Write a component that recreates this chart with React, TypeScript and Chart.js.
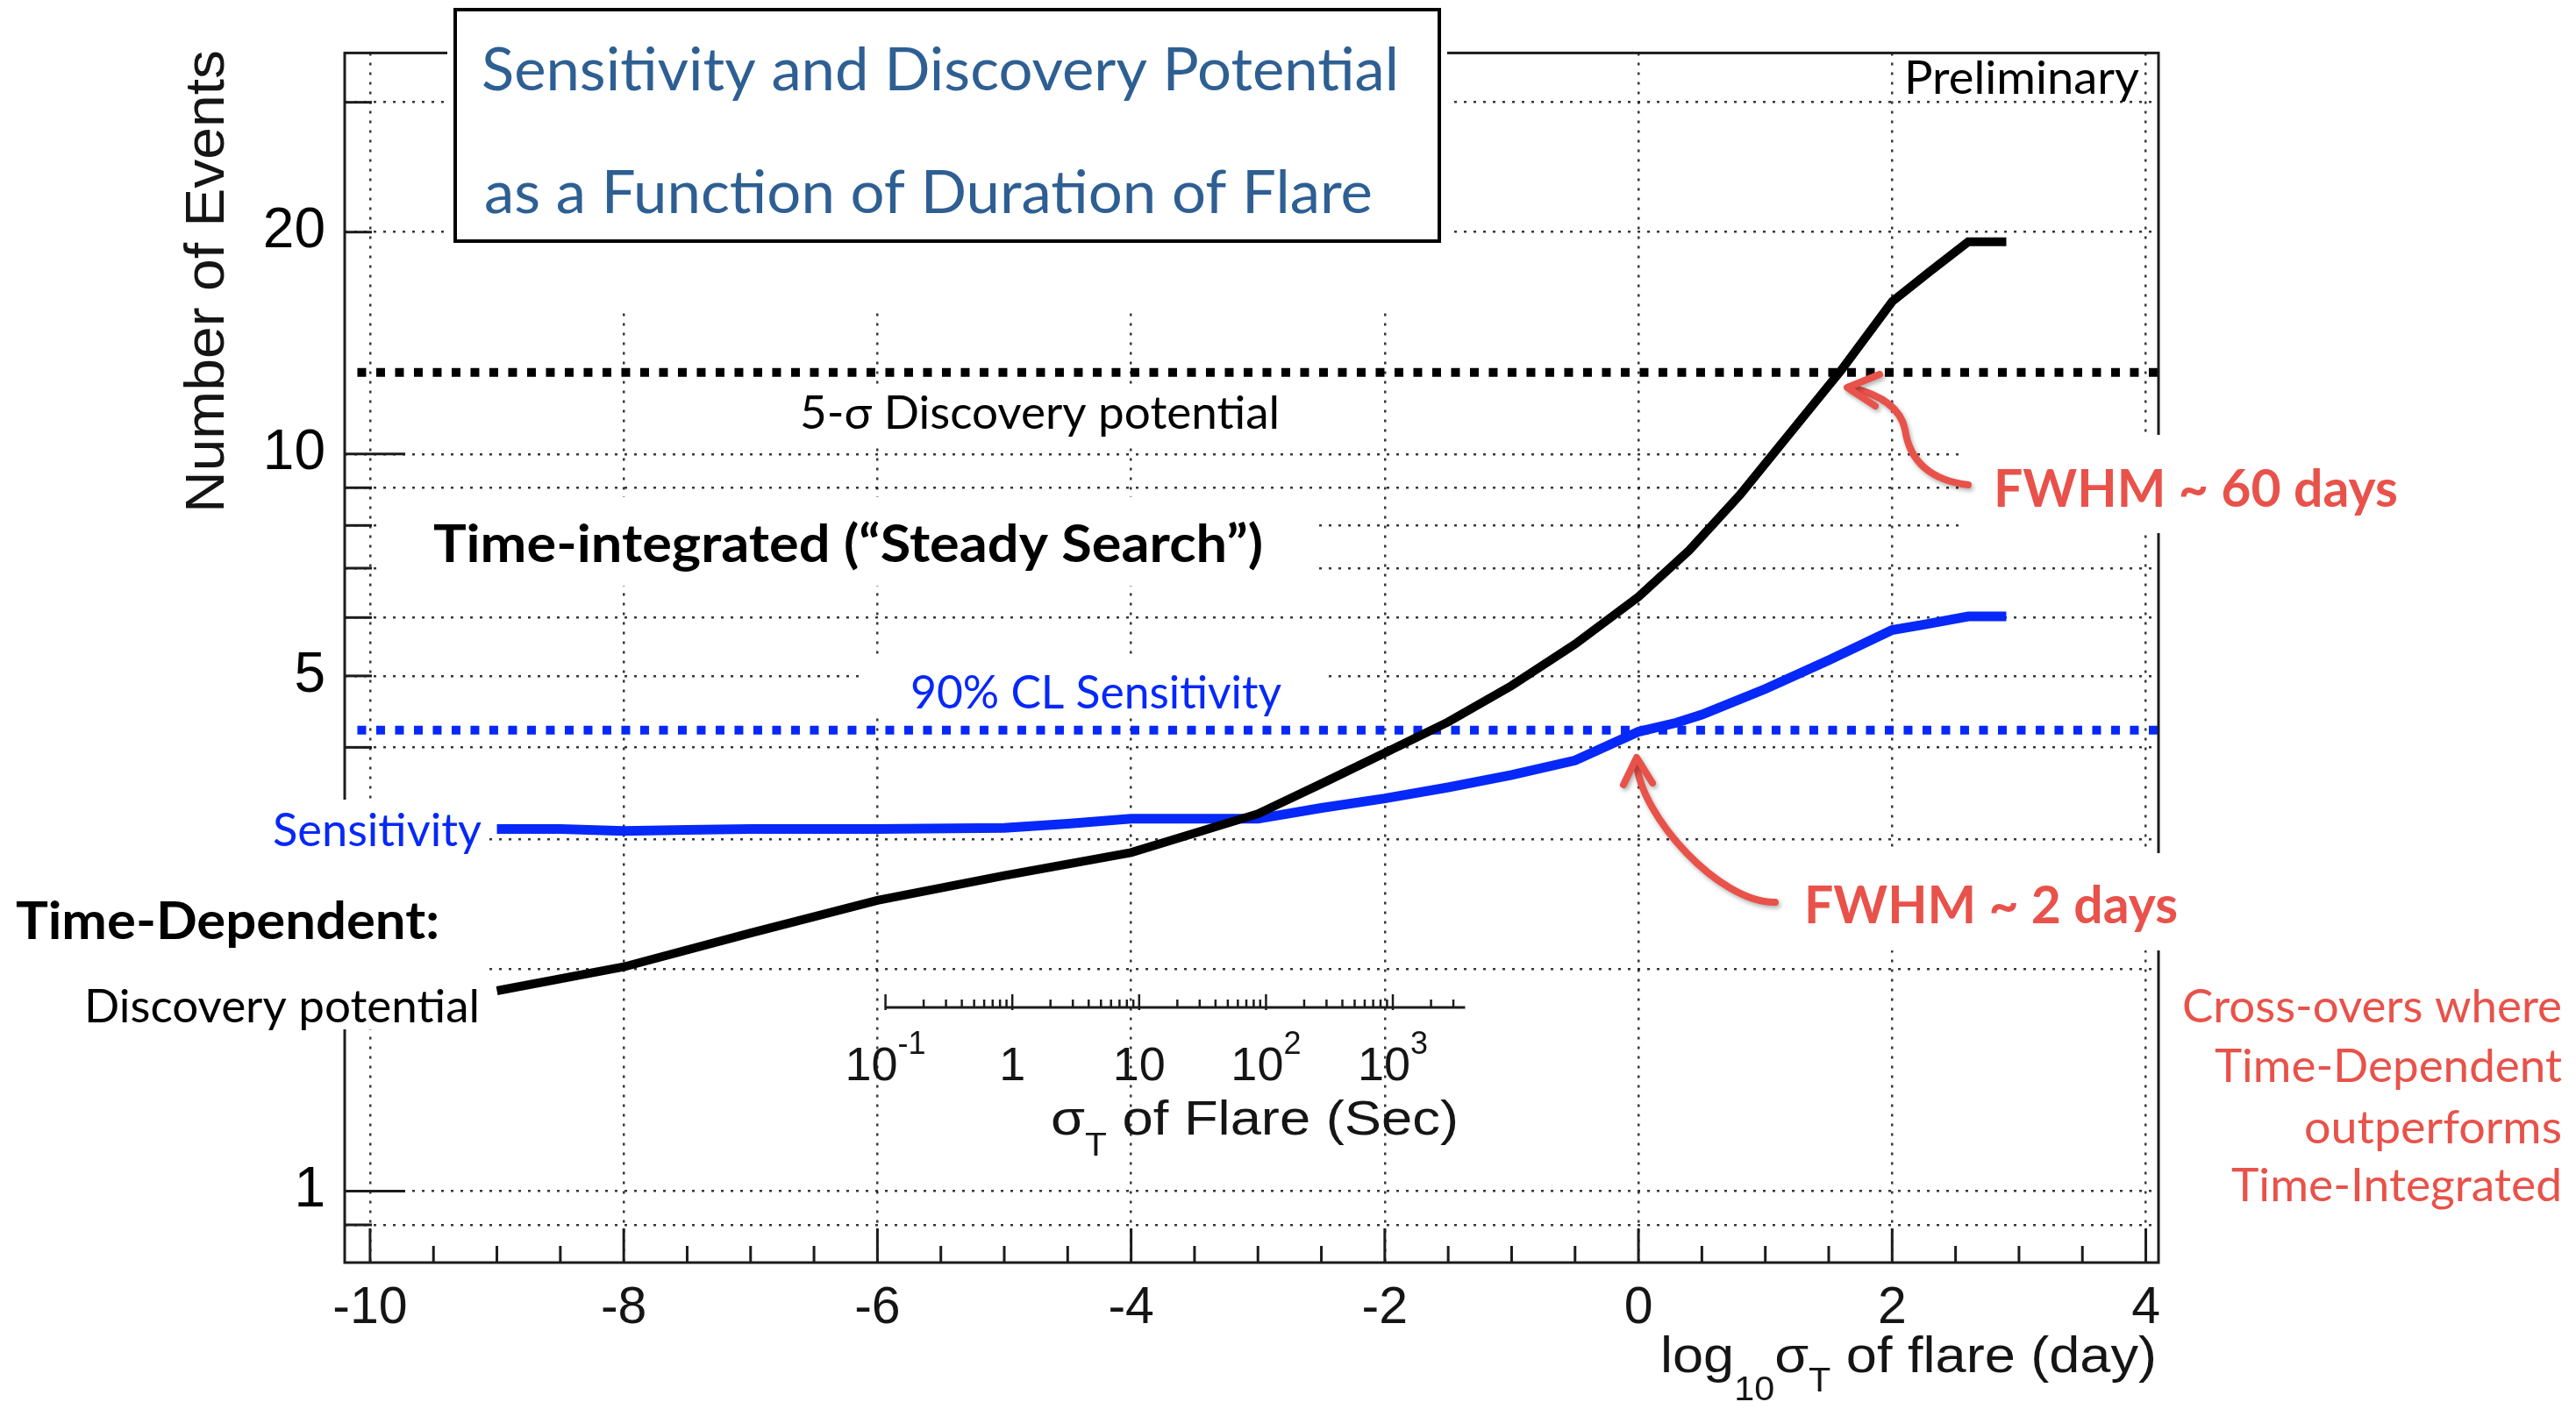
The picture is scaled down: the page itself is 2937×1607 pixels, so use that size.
import React, { useEffect, useRef } from 'react';
import { Chart, registerables } from 'chart.js';

Chart.register(...registerables);

const W = 2937;
const H = 1607;

// ---------------- data ----------------
// Time-dependent discovery potential (black curve)
const discoveryLog10Days = [-9, -8, -7, -6, -5, -4, -3, -2.5, -2, -1.5, -1, -0.5, 0, 0.4, 0.8, 1.2, 1.6, 2.0, 2.3, 2.6, 2.9];
const discoveryEvents = [1.87, 2.015, 2.24, 2.48, 2.68, 2.88, 3.25, 3.57, 3.93, 4.33, 4.85, 5.52, 6.4, 7.4, 8.8, 10.7, 13.0, 16.1, 17.7, 19.4, 19.4];
// Time-dependent sensitivity (blue curve)
const sensitivityLog10Days = [-9, -8.5, -8, -7.5, -7, -6, -5, -4.5, -4, -3.5, -3, -2.5, -2, -1.5, -1, -0.5, 0, 0.3, 0.5, 1, 1.5, 2, 2.25, 2.6, 2.9];
const sensitivityEvents = [3.1, 3.1, 3.08, 3.09, 3.1, 3.1, 3.11, 3.15, 3.2, 3.2, 3.2, 3.31, 3.41, 3.53, 3.67, 3.84, 4.2, 4.32, 4.43, 4.8, 5.25, 5.77, 5.87, 6.02, 6.02];
// Time-integrated (steady search) reference levels
const discoveryThreshold = 12.9;
const sensitivityThreshold = 4.22;
const thresholdRange = [-10.1, 4.1];

// axes
const xTicks = [-10, -8, -6, -4, -2, 0, 2, 4];
const yTicks = [0.9, 1, 2, 3, 4, 5, 6, 7, 8, 9, 10, 20, 30];
const yLabelled = [1, 5, 10, 20];
const yMajor = [1, 10];
// secondary (seconds) axis
const secExponents = [-1, 0, 1, 2, 3];
const secLabels: [string, string][] = [['10', '-1'], ['1', ''], ['10', ''], ['10', '2'], ['10', '3']];
const secAxisMaxLog = 3.57;
const LOG_SEC_PER_DAY = Math.log10(86400);

// ---------------- styles ----------------
const BLUE = '#0628f8';
const RED = '#e8524a';
const TITLE_BLUE = '#2e5f93';
const FRAME = '#1c1c1c';
const GRID = 'rgba(20,20,20,0.85)';
const LATO = '"Lato", "Open Sans", sans-serif';
const HELV = '"Liberation Sans", Arial, sans-serif';

type Piece = { t: string; size: number; dy?: number };

function rich(ctx: CanvasRenderingContext2D, pieces: Piece[], family: string, weight: string,
  x: number, y: number, targetWidth: number | null, align: 'left' | 'right' | 'center', color: string) {
  ctx.fillStyle = color;
  ctx.textBaseline = 'alphabetic';
  ctx.textAlign = 'left';
  let total = 0;
  const ws = pieces.map(p => {
    ctx.font = `${weight} ${p.size}px ${family}`;
    const w = ctx.measureText(p.t).width;
    total += w;
    return w;
  });
  const sx = targetWidth ? targetWidth / total : 1;
  const width = total * sx;
  let cx = align === 'right' ? x - width : align === 'center' ? x - width / 2 : x;
  pieces.forEach((p, i) => {
    ctx.font = `${weight} ${p.size}px ${family}`;
    ctx.save();
    ctx.translate(cx, y + (p.dy || 0));
    ctx.scale(sx, 1);
    ctx.fillText(p.t, 0, 0);
    ctx.restore();
    cx += ws[i] * sx;
  });
}

function text(ctx: CanvasRenderingContext2D, t: string, size: number, family: string, weight: string,
  x: number, y: number, w: number | null, align: 'left' | 'right' | 'center', color: string) {
  rich(ctx, [{ t, size }], family, weight, x, y, w, align, color);
}

function seg(ctx: CanvasRenderingContext2D, x0: number, y0: number, x1: number, y1: number) {
  ctx.beginPath();
  ctx.moveTo(x0, y0);
  ctx.lineTo(x1, y1);
  ctx.stroke();
}

// white backgrounds of the slide text boxes that were laid over the plot
const WHITE_BOXES: [number, number, number, number][] = [
  [510, 0, 1650, 356],
  [900, 444, 1470, 505],
  [430, 567, 1504, 668],
  [985, 752, 1508, 818],
  [0, 912, 558, 1174],
  [2240, 496, 2760, 608],
  [2035, 973, 2500, 1084],
];

const overlay = {
  id: 'overlay',
  afterDraw(chart: any) {
    const { ctx, chartArea: a } = chart;
    const xs = chart.scales.x;
    const ys = chart.scales.y;
    ctx.save();
    ctx.setLineDash([]);
    ctx.lineCap = 'butt';

    // frame
    ctx.strokeStyle = FRAME;
    ctx.lineWidth = 3;
    ctx.strokeRect(a.left, a.top, a.right - a.left, a.bottom - a.top);

    // ROOT-style inner ticks
    for (let k = -20; k <= 8; k++) {
      const v = k / 2;
      const px = xs.getPixelForValue(v);
      seg(ctx, px, a.bottom, px, a.bottom - (xTicks.includes(v) ? 39 : 19));
    }
    for (const v of yTicks) {
      const py = ys.getPixelForValue(v);
      seg(ctx, a.left, py, a.left + (yMajor.includes(v) ? 69 : 31), py);
    }

    // secondary axis: sigma_T in seconds
    const iy = 1149;
    const sx0 = xs.getPixelForValue(secExponents[0] - LOG_SEC_PER_DAY);
    const sx1 = xs.getPixelForValue(secAxisMaxLog - LOG_SEC_PER_DAY);
    ctx.lineWidth = 3;
    ctx.strokeStyle = FRAME;
    seg(ctx, sx0, iy, sx1, iy);
    ctx.lineWidth = 2.5;
    for (let e = secExponents[0]; e <= secExponents[secExponents.length - 1]; e++) {
      for (let m = 1; m <= 9; m++) {
        const lv = e + Math.log10(m);
        if (lv > secAxisMaxLog + 1e-9) continue;
        const px = xs.getPixelForValue(lv - LOG_SEC_PER_DAY);
        seg(ctx, px, iy + (m === 1 ? 3 : 0), px, iy - (m === 1 ? 15 : 9));
      }
    }
    secExponents.forEach((e, i) => {
      const px = xs.getPixelForValue(e - LOG_SEC_PER_DAY);
      const [base, sup] = secLabels[i];
      const pieces: Piece[] = [{ t: base, size: 54 }];
      if (sup) pieces.push({ t: sup, size: 36, dy: -30 });
      rich(ctx, pieces, HELV, 'normal', px, 1232, null, 'center', '#151515');
    });
    rich(ctx, [{ t: 'σ', size: 56 }, { t: 'T', size: 36, dy: 24 }, { t: ' of Flare (Sec)', size: 56 }],
      HELV, 'normal', 1198, 1294, 465, 'left', '#151515');

    // axis titles
    rich(ctx, [{ t: 'log', size: 58 }, { t: '10', size: 38, dy: 32 }, { t: 'σ', size: 58 }, { t: 'T', size: 38, dy: 22 },
      { t: ' of flare (day)', size: 58 }], HELV, 'normal', 2459, 1565, 566, 'right', '#151515');
    ctx.save();
    ctx.translate(255, 321);
    ctx.rotate(-Math.PI / 2);
    text(ctx, 'Number of Events', 63, HELV, 'normal', 0, 0, 528, 'center', '#151515');
    ctx.restore();

    // white text-box backgrounds
    ctx.fillStyle = '#ffffff';
    for (const [x0, y0, x1, y1] of WHITE_BOXES) ctx.fillRect(x0, y0, x1 - x0, y1 - y0);

    // title box
    ctx.strokeStyle = '#000';
    ctx.lineWidth = 4;
    ctx.strokeRect(519, 11, 1122, 264);
    text(ctx, 'Sensitivity and Discovery Potential', 67, LATO, 'normal', 549, 103, 1046, 'left', TITLE_BLUE);
    text(ctx, 'as a Function of Duration of Flare', 67, LATO, 'normal', 552, 243, 1013, 'left', TITLE_BLUE);

    // annotations
    text(ctx, 'Preliminary', 52, LATO, 'normal', 2171, 107, 268, 'left', '#000');
    text(ctx, '5-σ Discovery potential', 52, LATO, 'normal', 912, 489, 547, 'left', '#000');
    text(ctx, 'Time-integrated (“Steady Search”)', 59, LATO, 'bold', 494, 641, 946, 'left', '#000');
    text(ctx, '90% CL Sensitivity', 52, LATO, 'normal', 1038, 808, 423, 'left', BLUE);
    text(ctx, 'Sensitivity', 52, LATO, 'normal', 311, 965, 238, 'left', BLUE);
    text(ctx, 'Time-Dependent:', 59, LATO, 'bold', 18, 1071, 483, 'left', '#000');
    text(ctx, 'Discovery potential', 52, LATO, 'normal', 96, 1166, 451, 'left', '#000');
    text(ctx, 'FWHM ~ 60 days', 59, LATO, 'bold', 2273, 578, 461, 'left', RED);
    text(ctx, 'FWHM ~ 2 days', 59, LATO, 'bold', 2057, 1053, 426, 'left', RED);
    text(ctx, 'Cross-overs where', 52, LATO, 'normal', 2921, 1166, 433, 'right', RED);
    text(ctx, 'Time-Dependent', 52, LATO, 'normal', 2921, 1234, 396, 'right', RED);
    text(ctx, 'outperforms', 52, LATO, 'normal', 2921, 1304, 294, 'right', RED);
    text(ctx, 'Time-Integrated', 52, LATO, 'normal', 2921, 1370, 377, 'right', RED);

    // arrows
    ctx.strokeStyle = RED;
    ctx.lineWidth = 8;
    ctx.lineCap = 'round';
    ctx.lineJoin = 'round';
    ctx.shadowColor = 'rgba(0,0,0,0.3)';
    ctx.shadowBlur = 5;
    ctx.shadowOffsetX = 2;
    ctx.shadowOffsetY = 3;
    ctx.beginPath();
    ctx.moveTo(2244, 553);
    ctx.quadraticCurveTo(2180, 545, 2172, 490);
    ctx.quadraticCurveTo(2165, 455, 2110, 442);
    ctx.stroke();
    ctx.beginPath();
    ctx.moveTo(2143, 427);
    ctx.lineTo(2106, 442);
    ctx.lineTo(2138, 463);
    ctx.stroke();
    ctx.beginPath();
    ctx.moveTo(2024, 1029);
    ctx.bezierCurveTo(1960, 1030, 1870, 930, 1866, 870);
    ctx.stroke();
    ctx.beginPath();
    ctx.moveTo(1851, 895);
    ctx.lineTo(1866, 864);
    ctx.lineTo(1884, 893);
    ctx.stroke();

    ctx.restore();
  },
};

export default function App() {
  const ref = useRef<HTMLCanvasElement>(null);
  useEffect(() => {
    const canvas = ref.current;
    if (!canvas) return;
    const pts = (xsArr: number[], ysArr: number[]) => xsArr.map((x, i) => ({ x, y: ysArr[i] }));
    const chart = new Chart(canvas, {
      type: 'scatter',
      data: {
        datasets: [
          {
            label: '5σ discovery potential (time-integrated)',
            data: thresholdRange.map(x => ({ x, y: discoveryThreshold })),
            showLine: true, pointRadius: 0, borderColor: '#000', borderWidth: 10,
            borderDash: [10, 11.5], order: 4,
          },
          {
            label: '90% CL sensitivity (time-integrated)',
            data: thresholdRange.map(x => ({ x, y: sensitivityThreshold })),
            showLine: true, pointRadius: 0, borderColor: BLUE, borderWidth: 10,
            borderDash: [10, 11.5], order: 3,
          },
          {
            label: 'Sensitivity (time-dependent)',
            data: pts(sensitivityLog10Days, sensitivityEvents),
            showLine: true, pointRadius: 0, borderColor: BLUE, borderWidth: 11, order: 2,
          },
          {
            label: 'Discovery potential (time-dependent)',
            data: pts(discoveryLog10Days, discoveryEvents),
            showLine: true, pointRadius: 0, borderColor: '#000', borderWidth: 10, order: 1,
          },
        ],
      },
      options: {
        animation: false,
        responsive: false,
        devicePixelRatio: 1,
        events: [],
        layout: { padding: { left: 0, top: 58, right: 476, bottom: 0 } },
        plugins: { legend: { display: false }, tooltip: { enabled: false }, title: { display: false } },
        scales: {
          x: {
            type: 'linear', min: -10.2, max: 4.1,
            afterBuildTicks: (s: any) => { s.ticks = xTicks.map(v => ({ value: v })); },
            afterFit: (s: any) => { s.height = H - 1440; },
            grid: { color: GRID, lineWidth: 2.5, drawTicks: false },
            border: { display: false, dash: [3, 8] },
            ticks: {
              autoSkip: false, maxRotation: 0, padding: 17, color: '#151515',
              font: { family: HELV, size: 59 },
              callback: (v: any) => String(v),
            },
          },
          y: {
            type: 'logarithmic', min: 0.8, max: 35,
            afterBuildTicks: (s: any) => { s.ticks = yTicks.map(v => ({ value: v })); },
            afterFit: (s: any) => { s.width = 393; },
            grid: { color: GRID, lineWidth: 2.5, drawTicks: false },
            border: { display: false, dash: [3, 8] },
            ticks: {
              autoSkip: false, padding: 22, color: '#000',
              font: { family: HELV, size: 64 },
              callback: (v: any) => (yLabelled.includes(Number(v)) ? String(v) : ''),
            },
          },
        },
      } as any,
      plugins: [overlay],
    });
    return () => chart.destroy();
  }, []);
  return (
    <div style={{ position: 'absolute', left: 0, top: 0, width: W, height: H, background: '#fff' }}>
      <canvas ref={ref} width={W} height={H} style={{ display: 'block', width: W, height: H }} />
    </div>
  );
}
